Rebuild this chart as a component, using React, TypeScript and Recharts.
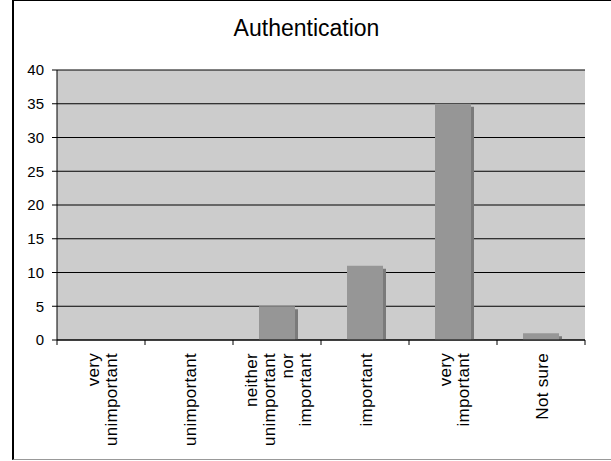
import { Bar, BarChart, CartesianGrid, XAxis, YAxis } from "recharts";

// survey answers for the "Authentication" question
const categories = [
  "very unimportant",
  "unimportant",
  "neither unimportant nor important",
  "important",
  "very important",
  "Not sure",
];
// how each category label wraps under the axis
const categoryLines = [
  ["very", "unimportant"],
  ["unimportant"],
  ["neither", "unimportant", "nor", "important"],
  ["important"],
  ["very", "important"],
  ["Not sure"],
];
const responses = [0, 0, 5, 11, 35, 1];
const yTicks = [0, 5, 10, 15, 20, 25, 30, 35, 40];

const FONT = "'Liberation Sans', Arial, sans-serif";
const BAR = "#969696";
const SHADOW = "#7a7a7a";
const EDGE = "#808080";

const data = categories.map((label, i) => ({ label, value: responses[i] }));

function ShadowBar(props: any) {
  const { x, y, width, height } = props;
  if (!height || height <= 0) return <g />;
  return (
    <g>
      <rect x={x + 3} y={y + 3} width={width} height={Math.max(0, height - 3)} fill={SHADOW} />
      <rect x={x} y={y} width={width} height={height} fill={BAR} />
    </g>
  );
}

function CategoryTick(props: any) {
  const { x, y, payload, width, visibleTicksCount, index } = props;
  const i = payload?.index ?? index;
  const lines = categoryLines[i] ?? [String(payload?.value ?? "")];
  const band = width && visibleTicksCount ? width / visibleTicksCount : (payload?.offset ?? 0) * 2;
  const axisY = y - 5;
  const step = 18;
  const n = lines.length;
  const last = i === (visibleTicksCount ?? categories.length) - 1;
  return (
    <g>
      <line x1={x - band / 2} x2={x - band / 2} y1={axisY} y2={axisY + 5} stroke="#000" />
      {last && <line x1={x + band / 2} x2={x + band / 2} y1={axisY} y2={axisY + 5} stroke="#000" />}
      <g transform={`translate(${x},${axisY + 13}) rotate(-90)`}>
        <text textAnchor="end" fontSize={17} letterSpacing={0.3} fill="#000" fontFamily={FONT}>
          {lines.map((line, k) => (
            <tspan key={k} x={0} y={(k - (n - 1) / 2) * step + 7}>
              {line}
            </tspan>
          ))}
        </text>
      </g>
    </g>
  );
}

export default function App() {
  return (
    <div style={{ position: "relative", width: 611, height: 461, background: "#fff", fontFamily: FONT }}>
      <style>{"body{margin:0}"}</style>
      <div
        style={{
          position: "absolute",
          left: 12,
          top: 0,
          width: 620,
          height: 460,
          boxSizing: "border-box",
          borderLeft: "2px solid #000",
          borderTop: "1px solid #000",
          borderBottom: "1px solid #999",
        }}
      />
      <div
        style={{
          position: "absolute",
          left: 1,
          top: 17,
          width: 611,
          textAlign: "center",
          fontSize: 23,
          lineHeight: "23px",
          color: "#000",
        }}
      >
        Authentication
      </div>
      <div style={{ position: "absolute", left: 0, top: 0 }}>
        <BarChart
          width={611}
          height={461}
          data={data}
          margin={{ top: 70, right: 26, left: 0, bottom: 0 }}
          barSize={36}
        >
          <CartesianGrid vertical={false} stroke="#000" fill="#cccccc" fillOpacity={1} />
          <XAxis
            dataKey="label"
            height={121}
            interval={0}
            tickSize={5}
            tickMargin={0}
            axisLine={{ stroke: "#000" }}
            tickLine={{ stroke: "none" }}
            tick={<CategoryTick />}
          />
          <XAxis
            xAxisId="edge"
            dataKey="label"
            orientation="top"
            height={0}
            axisLine={{ stroke: EDGE, strokeWidth: 2 }}
            tick={false}
            tickLine={false}
          />
          <YAxis
            width={57}
            domain={[0, 40]}
            ticks={yTicks}
            interval={0}
            tickSize={5}
            tickMargin={8}
            axisLine={{ stroke: "#000" }}
            tickLine={{ stroke: "#000" }}
            tick={{ fontSize: 15, fill: "#000", fontFamily: FONT }}
          />
          <YAxis
            yAxisId="edge"
            orientation="right"
            width={0}
            domain={[0, 40]}
            axisLine={{ stroke: EDGE, strokeWidth: 2 }}
            tick={false}
            tickLine={false}
          />
          <Bar dataKey="value" fill={BAR} shape={<ShadowBar />} isAnimationActive={false} />
        </BarChart>
      </div>
    </div>
  );
}
